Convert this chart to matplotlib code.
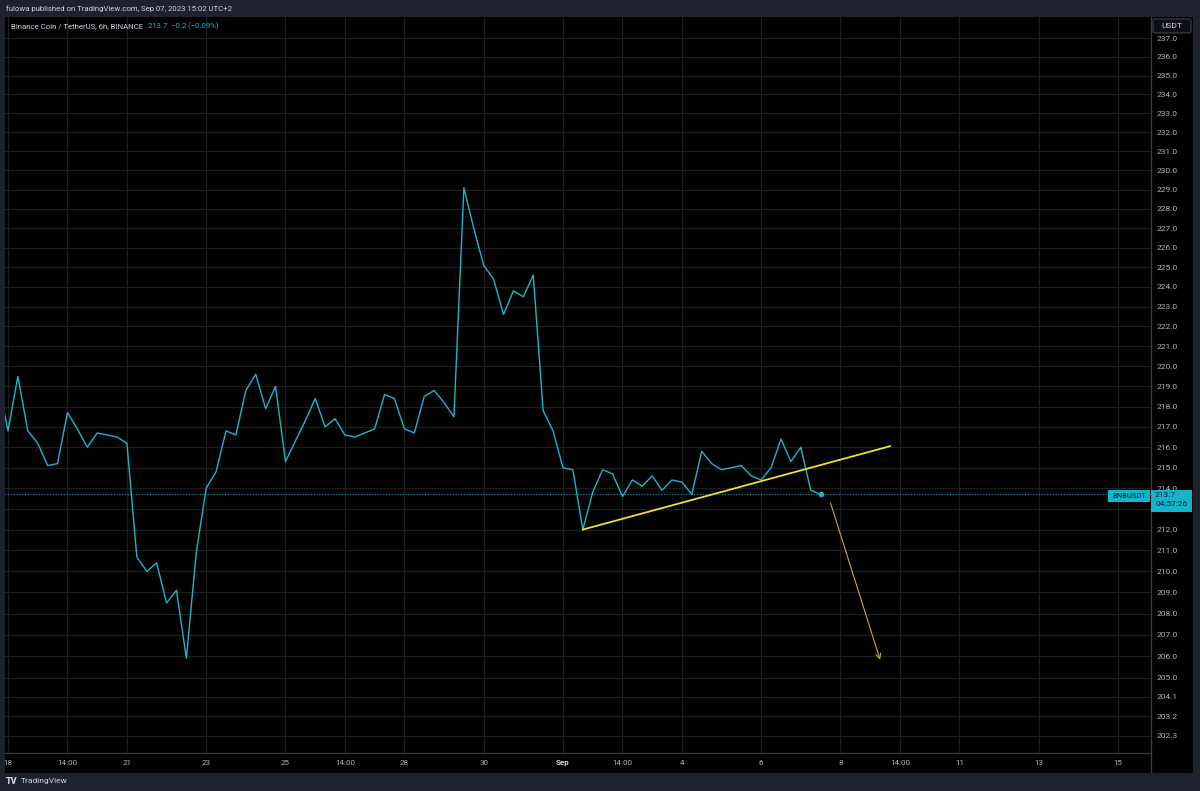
import pandas as pd
import matplotlib
matplotlib.use('Agg')
import matplotlib.pyplot as plt
import matplotlib.dates as mdates
import matplotlib.transforms as mtransforms
from matplotlib.patches import Rectangle, FancyBboxPatch
from matplotlib.ticker import NullLocator, NullFormatter

plt.rcParams['font.family'] = ['Roboto', 'DejaVu Sans']

# BNB/USDT 6h closes (local time UTC+2)
times = pd.date_range('2023-08-17 20:00', periods=84, freq='6h')
closes = [219.3, 216.8, 219.5, 216.8, 216.2, 215.1, 215.2, 217.7, 216.9, 216.0,
          216.7, 216.6, 216.5, 216.2, 210.7, 210.0, 210.4, 208.5, 209.1, 205.9,
          210.9, 214.0, 214.8, 216.8, 216.6, 218.8, 219.6, 217.9, 219.0, 215.3,
          216.3, 217.3, 218.4, 217.0, 217.4, 216.6, 216.5, 216.7, 216.9, 218.6,
          218.4, 216.9, 216.7, 218.5, 218.8, 218.2, 217.5, 229.1, 227.0, 225.1,
          224.4, 222.6, 223.8, 223.5, 224.6, 217.8, 216.8, 215.0, 214.9, 212.0,
          213.8, 214.9, 214.7, 213.6, 214.4, 214.1, 214.6, 213.9, 214.4, 214.3,
          213.7, 215.8, 215.2, 214.9, 215.0, 215.1, 214.6, 214.4, 215.0, 216.4,
          215.3, 216.0, 213.9, 213.7]

# drawings
trend_times = ['2023-09-01 14:00', '2023-09-09 08:00']
trend_prices = [212.0, 216.05]
arrow_times = ['2023-09-07 20:00', '2023-09-09 02:00']
arrow_prices = [213.28, 205.83]

# axis ticks
price_ticks = [237.0, 236.0, 235.0, 234.0, 233.0, 232.0, 231.0, 230.0, 229.0,
               228.0, 227.0, 226.0, 225.0, 224.0, 223.0, 222.0, 221.0, 220.0,
               219.0, 218.0, 217.0, 216.0, 215.0, 214.0, 213.0, 212.0, 211.0,
               210.0, 209.0, 208.0, 207.0, 206.0, 205.0, 204.1, 203.2, 202.3]
date_ticks = ['2023-08-18 02:00', '2023-08-19 14:00', '2023-08-21 02:00',
              '2023-08-23 02:00', '2023-08-25 02:00', '2023-08-26 14:00',
              '2023-08-28 02:00', '2023-08-30 02:00', '2023-09-01 02:00',
              '2023-09-02 14:00', '2023-09-04 02:00', '2023-09-06 02:00',
              '2023-09-08 02:00', '2023-09-09 14:00', '2023-09-11 02:00',
              '2023-09-13 02:00', '2023-09-15 02:00']
date_labels = ['18', '14:00', '21', '23', '25', '14:00', '28', '30', 'Sep',
               '14:00', '4', '6', '8', '14:00', '11', '13', '15']


def dnum(ts):
    return mdates.date2num(pd.to_datetime(ts).to_pydatetime())


W, H = 1200, 791
FRAME = '#1e222d'
CYAN = '#1cb5cf'
TXT = '#b2b5be'
GRID = '#1e1e1e'
SEP = '#3a3e48'

fig = plt.figure(figsize=(W / 100, H / 100), dpi=100)
fig.patch.set_facecolor(FRAME)


def fx(px):
    return px / W


def fy(py):
    return 1 - py / H


# black pane behind everything
bg = fig.add_axes([fx(5), fy(773), fx(1188), (773 - 17) / H])
bg.set_facecolor('black')
bg.set_xticks([])
bg.set_yticks([])
for s in bg.spines.values():
    s.set_visible(False)

ax = fig.add_axes([fx(5), fy(753), fx(1146), (753 - 17) / H])
ax.set_facecolor('black')

x = dnum(times)
ax.plot(x, closes, color=CYAN, lw=1.0, zorder=3)
ax.plot(x[-1], closes[-1], 'o', color=CYAN, ms=3, zorder=4)
ax.axhline(closes[-1], color=CYAN, lw=0.8, ls=(0, (1, 1.5)), alpha=0.8, zorder=2)

ax.plot(dnum(trend_times), trend_prices, color='#f2dc3a', lw=1.3, zorder=3)
ax.annotate('', xy=(dnum(arrow_times)[1], arrow_prices[1]),
            xytext=(dnum(arrow_times)[0], arrow_prices[0]),
            arrowprops=dict(arrowstyle='->,head_length=0.35,head_width=0.18',
                            color='#c4ac2a', lw=0.8, shrinkA=0, shrinkB=0),
            zorder=3)

t0 = pd.Timestamp('2023-08-18 02:00')
ax.set_xlim(dnum(t0 - pd.Timedelta(hours=1.8)), dnum(t0 + pd.Timedelta(hours=692)))
ax.set_yscale('log')
ax.set_ylim(201.52, 238.15)

ax.set_yticks(price_ticks)
ax.set_yticklabels([f'{p:.1f}' for p in price_ticks])
ax.yaxis.set_minor_locator(NullLocator())
ax.yaxis.set_minor_formatter(NullFormatter())
ax.yaxis.tick_right()
ax.tick_params(axis='y', length=0, pad=4, labelsize=6, labelcolor=TXT)
ax.set_xticks(dnum(date_ticks))
ax.tick_params(axis='x', length=0, labelbottom=False)
ax.grid(True, color=GRID, lw=0.9)
ax.set_axisbelow(True)
for side in ['top', 'left']:
    ax.spines[side].set_visible(False)
for side in ['bottom', 'right']:
    ax.spines[side].set_color(SEP)
    ax.spines[side].set_linewidth(0.9)

# date labels, clipped by the pane
tr = mtransforms.blended_transform_factory(ax.transData, fig.transFigure)
for d, lab in zip(dnum(date_ticks), date_labels):
    bold = lab == 'Sep'
    bg.text(d, fy(763), lab, transform=tr, ha='center', va='center',
            fontsize=5.8, color='#d1d4dc' if bold else TXT,
            fontweight='bold' if bold else 'normal', clip_on=True)
bg.plot([fx(1151), fx(1151)], [fy(753), fy(773)], transform=fig.transFigure,
        color=SEP, lw=0.9)

# header / legend
fig.text(fx(6), fy(9), 'fulowa published on TradingView.com, Sep 07, 2023 15:02 UTC+2',
         fontsize=5.6, color='#d1d4dc', va='center')
t1 = fig.text(fx(11), fy(26), 'Binance Coin / TetherUS, 6h, BINANCE',
              fontsize=5.6, color='#d1d4dc', va='center', zorder=10)
ax.annotate('213.7  \u22120.2 (\u22120.09%)', xy=(1, 0.5), xycoords=t1,
            xytext=(3.5, 0), textcoords='offset points', va='center',
            fontsize=5.6, color=CYAN, annotation_clip=False)

# USDT button
fig.patches.append(FancyBboxPatch((fx(1153), fy(33)), fx(38), (33 - 19) / H,
                                  boxstyle='round,pad=0,rounding_size=0.002',
                                  transform=fig.transFigure, facecolor='#0d0f14',
                                  edgecolor='#434651', lw=0.8, zorder=10))
fig.text(fx(1172), fy(26), 'USDT', fontsize=6, color='#d1d4dc', ha='center',
         va='center', zorder=11)

# last price labels
fig.canvas.draw()
ypix = ax.transData.transform((x[-1], closes[-1]))[1]
ytop = (ypix + 4) / H
fig.patches.append(Rectangle((fx(1108), ytop - 12 / H), fx(42), 12 / H,
                             transform=fig.transFigure, facecolor='#14b4cc',
                             edgecolor='none', zorder=10))
fig.text(fx(1129), (ypix - 2) / H, 'BNBUSDT', fontsize=5.5, color='#0f1a22',
         ha='center', va='center', zorder=11)
fig.patches.append(Rectangle((fx(1151), ytop - 22 / H), fx(41), 22 / H,
                             transform=fig.transFigure, facecolor='#14b4cc',
                             edgecolor='none', zorder=10))
fig.text(fx(1155), (ypix - 1) / H, '213.7', fontsize=6, color='#0f1a22',
         va='center', zorder=11)
fig.text(fx(1155), (ypix - 9.5) / H, '04:57:26', fontsize=6, color='#0f1a22',
         va='center', zorder=11)

# footer
fig.text(fx(6), fy(781), 'TV', fontsize=6.5, color='#d1d4dc', va='center',
         fontweight='black')
fig.text(fx(21), fy(781), 'TradingView', fontsize=6, color='#d1d4dc', va='center')

fig.savefig('out.png', dpi=100, facecolor=fig.get_facecolor())
